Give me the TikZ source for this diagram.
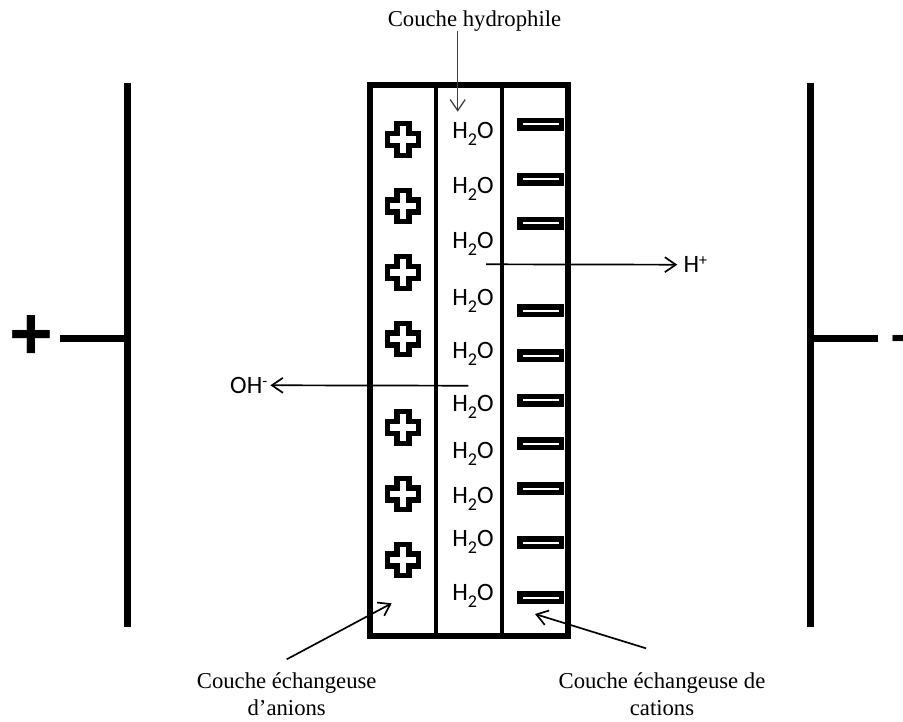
\documentclass[tikz,border=0pt]{standalone}
\usepackage{fontspec}
\setmainfont{Liberation Serif}
\newfontfamily\calfont{Carlito}
\newfontfamily\arfont{Liberation Sans}
\usetikzlibrary{arrows.meta}
\newcommand\water{H\raisebox{-7pt}{\fontsize{18}{18}\selectfont 2}O}
\begin{document}
\begin{tikzpicture}[x=1pt,y=-1pt,
  lbl/.style={font=\fontsize{22.7}{27}\selectfont, inner sep=0pt, align=center},
  ion/.style={font=\calfont\fontsize{25}{30}\selectfont, inner sep=0pt},
  arr/.style={-{Straight Barb[length=11pt,width=15pt]}, line width=1.7pt},
  electrode/.style={line width=7pt},
  sign/.style={font=\arfont\fontsize{79}{79}\selectfont, inner sep=0pt},
  minusbar/.style={draw, line width=5.5pt, minimum width=41.2pt, minimum height=7.5pt, inner sep=0pt},
  wall/.style={line width=4.3pt},
  plusmark/.pic={\draw[line width=5.3pt, miter limit=10] (-6,-15.7) -- (6,-15.7) -- (6,-6) -- (15.7,-6) -- (15.7,6) -- (6,6) -- (6,15.7) -- (-6,15.7) -- (-6,6) -- (-15.7,6) -- (-15.7,-6) -- (-6,-6) -- cycle;}
]
\useasboundingbox (0,0) rectangle (903,721);

% membrane
\node[draw, line width=5.2pt, minimum width=198pt, minimum height=551pt, inner sep=0pt] (mem) at (469,360.5) {};
\draw[wall] (436,85) -- (436,636);
\draw[wall] (502,85) -- (502,636);

% electrodes
\coordinate (L1) at (127,83.3);
\coordinate (L2) at (127,626.7);
\coordinate (Lm) at (127,338.5);
\coordinate (Lw) at (60,338.5);
\draw[electrode] (L1) -- (L2);
\draw[electrode] (Lw) -- (Lm);
\coordinate (R1) at (810,83.3);
\coordinate (R2) at (810,626.7);
\coordinate (Rm) at (810,338.5);
\coordinate (Re) at (878,338.5);
\draw[electrode] (R1) -- (R2);
\draw[electrode] (Rm) -- (Re);
\node[sign, font=\arfont\bfseries\fontsize{75}{75}\selectfont, anchor=base] (plus) at (31,359.5) {+};
\node[sign, anchor=base west] (minus) at (889.5,359.5) {-};

% fixed charges
\foreach \yy in {139.5,206,272.5,339,427.5,494,560}
  \pic at (403,\yy) {plusmark};
\foreach \yy [count=\i] in {124,179,223.3,310.7,355.5,400,443.7,488.7,542.7,597.8}
  \node[minusbar] (m\i) at (540.7,\yy) {};

% water
\foreach \yy [count=\i] in {138.3,193.3,248.3,305,358.3,411.7,458.3,503.3,546.7,600}
  \node[ion, anchor=base] (w\i) at (473,\yy) {\water};

% ions
\node[ion, anchor=base west] (hp) at (683.3,272.7) {H\raisebox{7pt}{\fontsize{16}{16}\selectfont +}};
\node[ion, anchor=base west] (oh) at (230,393.3) {OH\raisebox{7pt}{\fontsize{16}{16}\selectfont -}};
\coordinate (hs) at (486,264.3);
\coordinate (os) at (468.3,385.7);
\draw[arr] (hs) -- ([xshift=-6pt]hp.west);
\draw[arr] (os) -- ([xshift=3pt]oh.east);

% labels
\node[lbl, anchor=base] (top) at (474.5,26) {Couche hydrophile};
\node[lbl, anchor=north] (lA) at (286.7,672.8) {Couche échangeuse\\d’anions};
\node[lbl, anchor=north] (lC) at (662,672.8) {Couche échangeuse de\\cations};

\coordinate (t1) at (457.7,111.7);
\draw[arr, line width=1.3pt, black!75] (top.south -| t1) -- (t1);
\coordinate (a0) at (286.7,659.3);
\coordinate (a1) at (391.7,603.3);
\draw[arr] (a0) -- (a1);
\coordinate (c0) at (646,648.3);
\coordinate (c1) at (535,614);
\draw[arr] (c0) -- (c1);
\end{tikzpicture}
\end{document}
